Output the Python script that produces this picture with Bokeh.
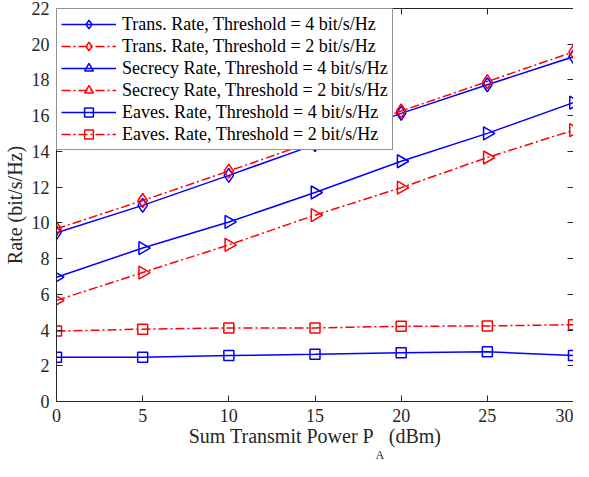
import numpy as np
from bokeh.plotting import figure
from bokeh.models import Range1d, FixedTicker, LinearAxis, Legend, LegendItem, Title
from bokeh.embed import file_html
from bokeh.resources import INLINE

# ---- data ----
power = [0, 5, 10, 15, 20, 25, 30]
trans_4 = [9.45, 10.98, 12.66, 14.38, 16.13, 17.73, 19.30]
trans_2 = [9.67, 11.25, 12.90, 14.58, 16.26, 17.91, 19.57]
sec_4 = [6.96, 8.59, 10.05, 11.70, 13.45, 15.01, 16.73]
sec_2 = [5.66, 7.22, 8.77, 10.43, 11.97, 13.66, 15.19]
eav_4 = [2.48, 2.48, 2.57, 2.64, 2.73, 2.78, 2.57]
eav_2 = [3.94, 4.05, 4.12, 4.12, 4.21, 4.23, 4.30]

labels = [
    "Trans. Rate, Threshold = 4 bit/s/Hz",
    "Trans. Rate, Threshold = 2 bit/s/Hz",
    "Secrecy Rate, Threshold = 4 bit/s/Hz",
    "Secrecy Rate, Threshold = 2 bit/s/Hz",
    "Eaves. Rate, Threshold = 4 bit/s/Hz",
    "Eaves. Rate, Threshold = 2 bit/s/Hz",
]
x_ticks = [0, 5, 10, 15, 20, 25, 30]
y_ticks = [0, 2, 4, 6, 8, 10, 12, 14, 16, 18, 20, 22]
y_label = "Rate (bit/s/Hz)"
x_label_main = "Sum Transmit Power P\u00a0\u00a0 (dBm)"
x_label_sub = "A"

FONT = "Liberation Serif"
AX = "#262626"
BLUE = "#0000FF"
RED = "#FF0000"
DASHDOT = "9 3 2 3"

p = figure(width=573, height=461, output_backend="svg", toolbar_location=None,
           x_range=Range1d(0, 30), y_range=Range1d(0, 22),
           min_border_left=48, min_border_right=0, min_border_top=8,
           min_border_bottom=20, background_fill_color="white",
           border_fill_color="white")
p.xgrid.visible = False
p.ygrid.visible = False
p.outline_line_color = None


def style_axis(ax, ticks, show_labels=True):
    ax.ticker = FixedTicker(ticks=ticks)
    ax.major_tick_in = 6
    ax.major_tick_out = 0
    ax.minor_tick_line_color = None
    ax.axis_line_color = AX
    ax.axis_line_width = 1
    ax.major_tick_line_color = AX
    ax.major_label_text_font = FONT
    ax.major_label_text_color = AX
    if show_labels:
        ax.major_label_text_font_size = "18px"
    else:
        ax.major_label_text_font_size = "0px"
        ax.major_label_standoff = 0


style_axis(p.xaxis[0], x_ticks)
p.xaxis[0].major_label_standoff = 7
p.xaxis[0].axis_label = x_label_main
p.xaxis[0].axis_label_text_font = FONT
p.xaxis[0].axis_label_text_font_size = "20px"
p.xaxis[0].axis_label_text_font_style = "normal"
p.xaxis[0].axis_label_text_color = AX
p.xaxis[0].axis_label_standoff = 0

style_axis(p.yaxis[0], y_ticks)
p.yaxis[0].major_label_standoff = 7
p.yaxis[0].axis_label = y_label
p.yaxis[0].axis_label_text_font = FONT
p.yaxis[0].axis_label_text_font_size = "20px"
p.yaxis[0].axis_label_text_font_style = "normal"
p.yaxis[0].axis_label_text_color = AX
p.yaxis[0].axis_label_standoff = 3

top_axis = LinearAxis()
style_axis(top_axis, x_ticks, show_labels=False)
p.add_layout(top_axis, "above")
right_axis = LinearAxis()
style_axis(right_axis, y_ticks, show_labels=False)
p.add_layout(right_axis, "right")

# subscript "A" of P_A, placed just under the axis label
sub = Title(text=x_label_sub, align="left", offset=319, standoff=-4,
            vertical_align="top",
            text_font=FONT, text_font_size="12px", text_font_style="normal",
            text_color=AX)
p.add_layout(sub, "below")

series = [
    (trans_4, BLUE, "solid", "diamond", 14, 0.0),
    (trans_2, RED, DASHDOT, "diamond", 14, 0.0),
    (sec_4, BLUE, "solid", "triangle", 13, -np.pi / 2),
    (sec_2, RED, DASHDOT, "triangle", 13, -np.pi / 2),
    (eav_4, BLUE, "solid", "square", 10, 0.0),
    (eav_2, RED, DASHDOT, "square", 10, 0.0),
]

items = []
for (vals, col, dash, mk, sz, ang), lab in zip(series, labels):
    r1 = p.line(power, vals, line_color=col, line_width=1.5, line_dash=dash)
    r2 = p.scatter(power, vals, marker=mk, size=sz, angle=ang,
                   line_color=col, fill_color=None, line_width=1.5)
    items.append(LegendItem(label=lab, renderers=[r1, r2]))

legend = Legend(items=items, location="top_left", margin=0, padding=4,
                spacing=0, label_height=22, glyph_height=22, glyph_width=55,
                label_standoff=6, label_text_font=FONT,
                label_text_font_size="18px", label_text_color="black",
                border_line_color=AX, border_line_width=1,
                background_fill_color="white", background_fill_alpha=1)
p.add_layout(legend)

open("out.html", "w").write(file_html(p, INLINE))
